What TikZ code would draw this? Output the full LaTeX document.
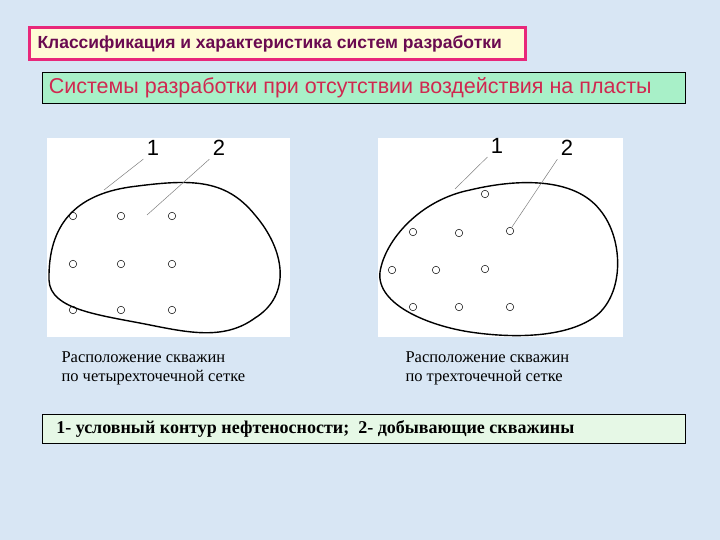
\documentclass[tikz,border=0pt]{standalone}
\usepackage{fontspec}
\setmainfont{Liberation Serif}
\newfontfamily\sansf{Liberation Sans}
\definecolor{bg}{HTML}{D8E6F4}
\definecolor{pinkb}{HTML}{E8287A}
\definecolor{yel}{HTML}{FFFBD6}
\definecolor{mint}{HTML}{A8F0C8}
\definecolor{pale}{HTML}{E6F8E6}
\definecolor{purp}{HTML}{6A0A50}
\definecolor{crim}{HTML}{D02850}
\begin{document}
\begin{tikzpicture}[x=1pt,y=-1pt,
  well/.style={draw,circle,inner sep=0pt,minimum size=7.5pt,line width=0.5pt},
  lead/.style={draw=gray,line width=0.5pt},
  num/.style={font=\sansf\fontsize{22}{22}\selectfont},
  captext/.style={font=\fontsize{16.5}{19}\selectfont,align=left,anchor=north west},
  contour/.style={line width=1.4pt}]
\path[fill=bg] (0,0) rectangle (720,540);
\useasboundingbox (0,0) rectangle (720,540);
\node[draw=pinkb,line width=3pt,fill=yel,minimum width=496pt,minimum height=32pt,anchor=north west,inner xsep=8pt,text=purp,font=\sansf\bfseries\fontsize{17.5}{19}\selectfont] (title) at (28,26) {\makebox[480pt][l]{Классификация и характеристика систем разработки}};
\node[draw=black,line width=0.6pt,fill=mint,minimum width=643pt,minimum height=31pt,anchor=north west,inner xsep=6pt,text=crim,font=\sansf\fontsize{21.5}{23}\selectfont] (sub) at (42,72) {\makebox[630pt][l]{Системы разработки при отсутствии воздействия на пласты}};
% left panel
\node[fill=white,minimum width=243pt,minimum height=199pt,anchor=north west,inner sep=0pt] (pl) at (47,138) {};
\draw[contour] (49,280) .. controls (48,225) and (75,195) .. (130,187)
  .. controls (190,179) and (225,178) .. (255,215)
  .. controls (285,250) and (292,295) .. (255,318)
  .. controls (225,340) and (190,333) .. (150,325)
  .. controls (100,315) and (50,310) .. (49,280) -- cycle;
\foreach \x in {73,121,172} \foreach \y in {216,264,310} \node[well] at (\x,\y) {};
\node[num] (l1) at (153,148) {1};
\node[num] (l2) at (219,148) {2};
\coordinate (l1e) at (104,190);
\coordinate (l2e) at (147,215);
\draw[lead] (l1.south west) -- (l1e);
\draw[lead] (l2.south west) -- (l2e);
% right panel
\node[fill=white,minimum width=245pt,minimum height=199pt,anchor=north west,inner sep=0pt] (pr) at (378,138) {};
\draw[contour] (380,272) .. controls (385,240) and (420,200) .. (470,190)
  .. controls (520,178) and (575,178) .. (600,210)
  .. controls (625,240) and (625,300) .. (590,320)
  .. controls (560,338) and (510,338) .. (470,332)
  .. controls (430,326) and (376,305) .. (380,272) -- cycle;
\foreach \p in {(485,194),(413,232),(459,233),(510,231),(392,270),(436,270),(485,269),(413,307),(459,307),(510,307)} \node[well] at \p {};
\node[num] (r1) at (497,146) {1};
\node[num] (r2) at (567,148) {2};
\coordinate (r1e) at (455,189);
\coordinate (r2e) at (512,227);
\draw[lead] (r1.south west) -- (r1e);
\draw[lead] (r2.south west) -- (r2e);
% captions
\node[captext] (c1) at (58,348) {Расположение скважин\\по  четырехточечной  сетке};
\node[captext] (c2) at (402,348) {Расположение скважин\\по трехточечной сетке};
\node[draw=black,line width=0.6pt,fill=pale,minimum width=643pt,minimum height=29pt,anchor=north west,inner xsep=14pt,font=\bfseries\fontsize{18}{20}\selectfont] (leg) at (42,414) {\makebox[615pt][l]{1- условный контур нефтеносности;\ \ 2- добывающие скважины}};
\end{tikzpicture}
\end{document}
